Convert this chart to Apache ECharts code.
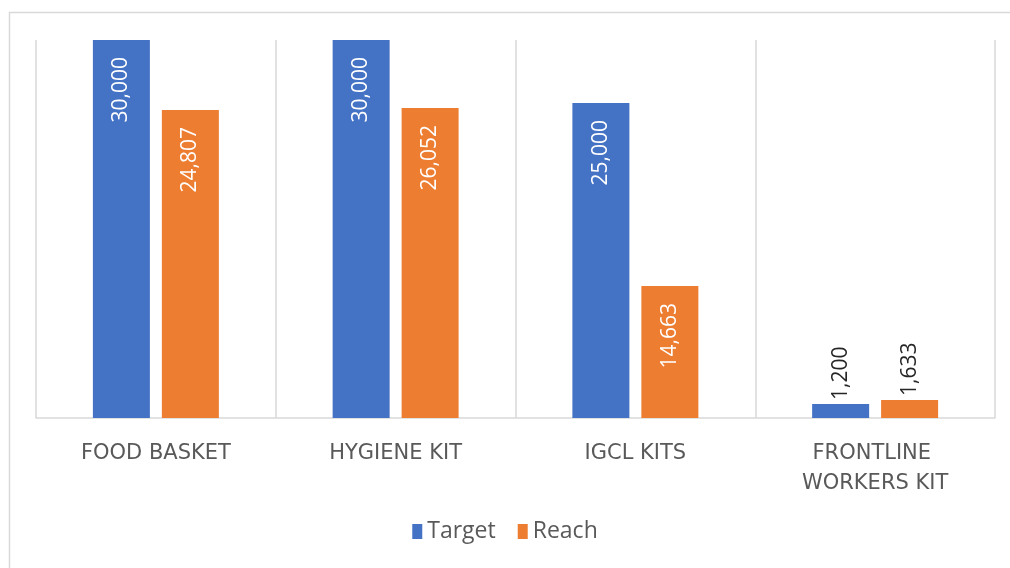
<!DOCTYPE html>
<html>
<head>
<meta charset="utf-8">
<script src="https://cdn.jsdelivr.net/npm/echarts@6/dist/echarts.min.js"></script>
<style>
  html, body { margin: 0; padding: 0; background: #fff; }
  #mychart { width: 1010px; height: 568px; }
</style>
</head>
<body>
<div id="mychart"></div>
<script>
// categories along the x axis
const categories = ['FOOD BASKET', 'HYGIENE KIT', 'IGCL KITS', 'FRONTLINE WORKERS KIT'];

// bar heights as drawn in the picture (the axis tops out at 30,000)
const targetValues = [30000, 30000, 25000, 1110];
const reachValues = [24450, 24600, 10480, 1430];

// data labels printed on the bars
const targetLabels = ['30,000', '30,000', '25,000', '1,200'];
const reachLabels = ['24,807', '26,052', '14,663', '1,633'];

const chartDom = document.getElementById('mychart');
const myChart = echarts.init(chartDom);

// tall bars carry a white label inside the top, short ones a dark label above
const buildItems = (values, labels) => values.map((v, i) => {
    const small = v < 5000;
    return {
        value: v,
        label: {
            show: true,
            formatter: labels[i],
            rotate: 90,
            position: small ? 'top' : 'insideTop',
            align: small ? 'left' : 'right',
            verticalAlign: 'middle',
            distance: small ? 4 : 17,
            color: small ? '#262626' : '#ffffff',
            fontFamily: 'Open Sans',
            fontSize: 21
        }
    };
});

const option = {
    animation: false,
    backgroundColor: '#ffffff',
    graphic: [{
        type: 'rect',
        left: 7,
        top: 10,
        shape: {width: 1100, height: 700},
        style: {fill: 'none', stroke: '#d9d9d9', lineWidth: 1.5},
        silent: true
    }],
    grid: {
        left: 36,
        right: 15,
        top: 40,
        bottom: 150
    },
    legend: {
        bottom: 20,
        left: 'center',
        icon: 'rect',
        itemWidth: 10,
        itemHeight: 15,
        itemGap: 22,
        textStyle: {
            color: '#595959',
            fontFamily: 'Open Sans',
            fontSize: 23
        },
        data: ['Target', 'Reach']
    },
    xAxis: {
        type: 'category',
        data: categories,
        axisLine: {lineStyle: {color: '#d9d9d9', width: 1.5}},
        axisTick: {show: false},
        splitLine: {show: true, lineStyle: {color: '#d9d9d9', width: 1.5}},
        axisLabel: {
            interval: 0,
            margin: 21,
            color: '#595959',
            fontFamily: 'DejaVu Sans',
            fontSize: 21,
            lineHeight: 30,
            width: 200,
            overflow: 'break'
        }
    },
    yAxis: {
        type: 'value',
        min: 0,
        max: 30000,
        show: false,
        splitLine: {show: false}
    },
    series: [{
        name: 'Target',
        type: 'bar',
        barWidth: 57,
        barGap: '21%',
        itemStyle: {color: '#4472C4'},
        data: buildItems(targetValues, targetLabels)
    }, {
        name: 'Reach',
        type: 'bar',
        barWidth: 57,
        itemStyle: {color: '#ED7D31'},
        data: buildItems(reachValues, reachLabels)
    }]
};

myChart.setOption(option);
</script>
</body>
</html>
